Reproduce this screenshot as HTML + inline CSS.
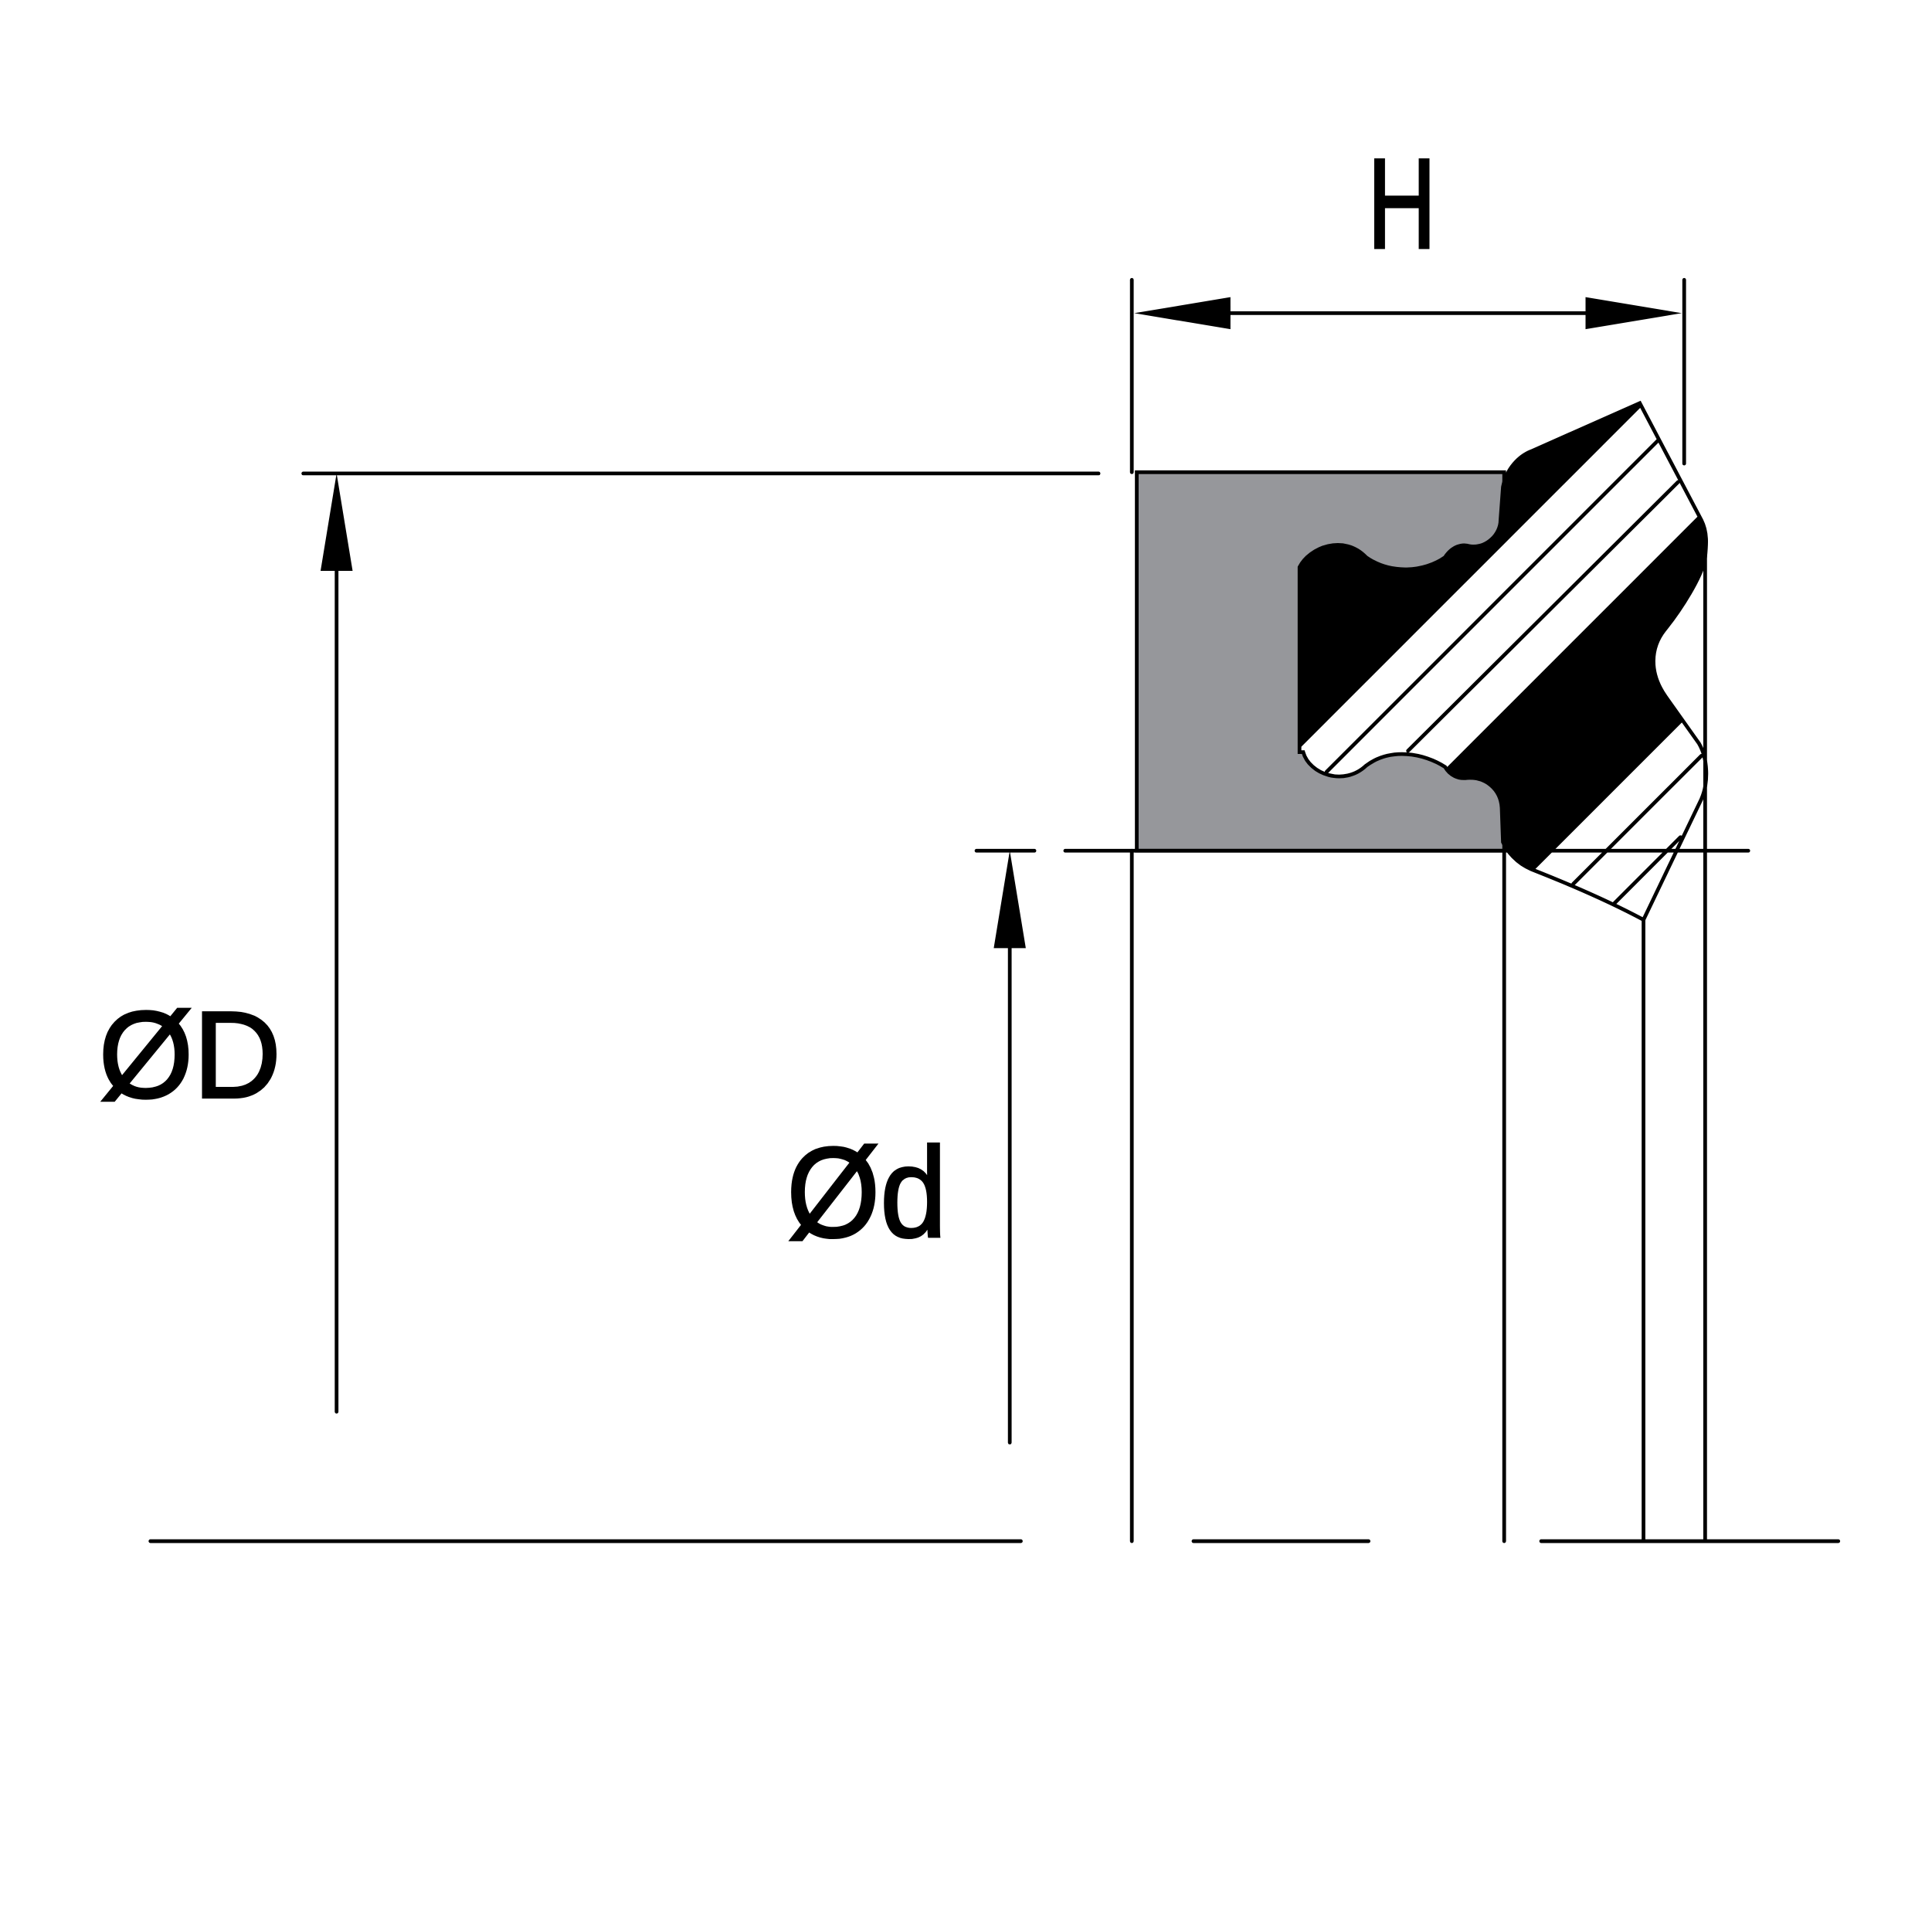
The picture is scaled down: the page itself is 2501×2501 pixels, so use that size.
<!DOCTYPE html>
<html><head><meta charset="utf-8"><style>html,body{margin:0;padding:0;background:#fff}svg{display:block}</style></head>
<body>
<svg width="2501" height="2501" viewBox="0 0 1567 1567" xmlns="http://www.w3.org/2000/svg">
<defs>
<clipPath id="seal"><path id="sp" d="M1054,460 C1062,444 1090,433 1108,452 C1128,466 1155,464 1172,452 C1178,443 1186,441 1192,443 C1206,445 1217,433 1217,422 L1219,395 C1222,380 1232,370 1242,366 L1330,327 L1380,422 C1385,432 1384,442 1383,452 C1381,467 1363,495 1350,511 C1339,525 1337,545 1351,565 L1378,603 C1385,615 1386,634 1380,648 L1333,746 C1305,731 1275,718 1242,705 C1230,700 1222,690 1219,683 L1218,655 C1217,640 1205,630 1190,631 C1183,632 1176,629 1172,622 C1155,611 1128,606 1108,621 C1090,638 1062,628 1057,610 L1054,610 Z"/></clipPath>
</defs>
<g fill="none" stroke="#000" stroke-width="3" stroke-linecap="round">
<rect x="922" y="383" width="298" height="307" fill="#96979b" stroke="#000"/>
<use href="#sp" fill="#000" stroke="none"/>
<g clip-path="url(#seal)">
<polygon points="1000,659 1400,259 1450,348 1100,698" fill="#fff" stroke="none"/>
<polygon points="1200,748 1450,498 1450,800 1200,800" fill="#fff" stroke="none"/>
<line x1="1000" y1="659" x2="1400" y2="259"/>
<line x1="1100" y1="698" x2="1450" y2="348"/>
<line x1="1200" y1="748" x2="1450" y2="498"/>
<line x1="1076" y1="626" x2="1345" y2="357"/>
<line x1="1142" y1="609" x2="1361" y2="391"/>
<line x1="1276" y1="717" x2="1380" y2="613"/>
<line x1="1309" y1="733" x2="1363" y2="679"/>
</g>
<use href="#sp" fill="none" stroke="#000"/>
<line x1="918" y1="227" x2="918" y2="383"/>
<line x1="1366" y1="227" x2="1366" y2="376"/>
<line x1="990" y1="254" x2="1295" y2="254"/>
<polygon points="920,254 998,241 998,267" fill="#000" stroke="none"/>
<polygon points="1364,254 1286,241 1286,267" fill="#000" stroke="none"/>
<line x1="246" y1="384" x2="891" y2="384"/>
<line x1="273" y1="455" x2="273" y2="1145"/>
<polygon points="273,384 260,463 286,463" fill="#000" stroke="none"/>
<line x1="792" y1="690" x2="839" y2="690"/>
<line x1="819" y1="760" x2="819" y2="1170"/>
<polygon points="819,690 806,769 832,769" fill="#000" stroke="none"/>
<line x1="864" y1="690" x2="1418" y2="690"/>
<line x1="918" y1="690" x2="918" y2="1250"/>
<line x1="1220" y1="690" x2="1220" y2="1250"/>
<line x1="1333" y1="746" x2="1333" y2="1250"/>
<line x1="1383" y1="450" x2="1383" y2="1250"/>
<line x1="122" y1="1250" x2="828" y2="1250"/>
<line x1="968" y1="1250" x2="1110" y2="1250"/>
<line x1="1250" y1="1250" x2="1491" y2="1250"/>
</g>
<g font-family="Liberation Sans, DejaVu Sans, sans-serif" fill="#000" stroke="#000" stroke-width="2">
<text x="1109" y="201" font-size="104" textLength="56" lengthAdjust="spacingAndGlyphs">H</text>
<text x="80" y="890" font-size="100" textLength="148" lengthAdjust="spacingAndGlyphs">ØD</text>
<text x="638" y="1003" font-size="104" textLength="130" lengthAdjust="spacingAndGlyphs">Ød</text>
</g>
</svg>
</body></html>
